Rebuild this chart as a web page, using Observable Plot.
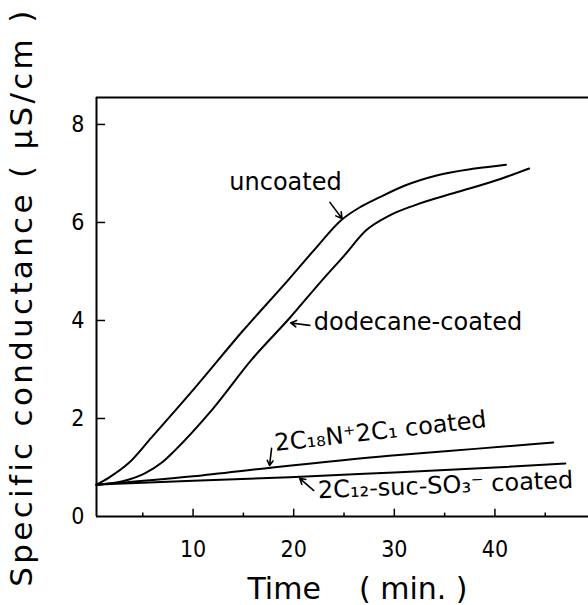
<!DOCTYPE html>
<html><head><meta charset="utf-8">
<script src="https://cdn.jsdelivr.net/npm/d3@7"></script>
<script src="https://cdn.jsdelivr.net/npm/@observablehq/plot@0.6"></script>
<style>
html,body{margin:0;padding:0;background:#fff;}
#chart{width:588px;height:605px;overflow:hidden;}
text{white-space:pre;}
</style></head><body><div id="chart"></div>
<script>
// Time (min) / specific conductance (µS/cm) readings
const uncoated = [[0.4,0.65],[1.6,0.79],[3.6,1.09],[5.9,1.62],[10.2,2.63],[14.95,3.79],[19.6,4.86],[22,5.43],[24.8,6.06],[26.5,6.3],[28.5,6.51],[31,6.75],[34.2,6.96],[38,7.1],[41.1,7.18]];
const dodecane = [[0.4,0.65],[3.0,0.72],[5.2,0.88],[6.9,1.10],[8.2,1.35],[11.9,2.18],[15.9,3.22],[19.6,4.05],[22.9,4.84],[25,5.32],[27.2,5.84],[29.5,6.14],[32,6.35],[36.1,6.61],[40,6.85],[43.4,7.10]];
const c18 = [[0.4,0.65],[10,0.82],[17.9,1.0],[29.5,1.24],[38,1.38],[45.8,1.51]];
const c12 = [[0.4,0.65],[10,0.73],[19.6,0.80],[30,0.9],[40,1.0],[47,1.08]];
const seriesNames = ["uncoated","dodecane-coated","2C18N+2C1 coated","2C12-suc-SO3- coated"];
const xTicksMajor = [10,20,30,40];
const xTicksMinor = [5,15,25,35,45];
const yTicks = [0,2,4,6,8];
const xTitle = "Time    ( min. )";
const yTitle = "Specific conductance ( \u03bcS/cm )";
const labelTexts = ["uncoated","dodecane-coated","2C\u2081\u2088N\u207a2C\u2081 coated","2C\u2081\u2082-suc-SO\u2083\u207b coated"];

// layout (not data)
const xDomain = [0.4, 49.3];
const yDomain = [0, 8.55];
const labelPos = [[13.6,6.82,0],[22.0,3.96,0],[18.1,1.49,-6.5],[22.4,0.53,-2.3]];
const arrowPos = [[23.6,6.41,24.8,6.08],[21.6,3.90,19.7,3.95],[17.8,1.39,17.6,1.04],[22.0,0.53,20.6,0.78]];

const rows = [uncoated,dodecane,c18,c12].flatMap((pts,i)=>pts.map(([t,c])=>({series:seriesNames[i],t,c})));
const labels = labelTexts.map((text,i)=>({text,x:labelPos[i][0],y:labelPos[i][1],r:labelPos[i][2]}));
const arrows = arrowPos.map(([x1,y1,x2,y2])=>({x1,y1,x2,y2}));

const chart = Plot.plot({
  width:588, height:605,
  marginLeft:96, marginRight:0, marginTop:97, marginBottom:89,
  x:{domain:xDomain}, y:{domain:yDomain},
  style:{fontFamily:"DejaVu Sans", color:"#000", background:"#fff"},
  marks:[
    Plot.ruleX([xDomain[0]],{stroke:"#000",strokeWidth:2}),
    Plot.ruleY([yDomain[0]],{stroke:"#000",strokeWidth:2}),
    Plot.ruleY([yDomain[1]],{stroke:"#000",strokeWidth:2}),
    Plot.ruleY(yTicks.filter(d=>d>0),{x1:xDomain[0],x2:xDomain[0]+0.9,stroke:"#000",strokeWidth:1.5}),
    Plot.ruleX(xTicksMajor,{y1:0,y2:0.15,stroke:"#000",strokeWidth:1.5}),
    Plot.ruleX(xTicksMinor,{y1:0,y2:0.07,stroke:"#000",strokeWidth:1.5}),
    Plot.axisY(yTicks,{tickSize:0,tickPadding:12,fontSize:23,fontFamily:"DejaVu Sans Condensed",label:null}),
    Plot.axisX(xTicksMajor,{tickSize:0,tickPadding:24,fontSize:23,fontFamily:"DejaVu Sans Condensed",label:null}),
    Plot.line(rows,{x:"t",y:"c",z:"series",stroke:"#000",strokeWidth:2,curve:"monotone-x"}),
    Plot.text(labels,{x:"x",y:"y",text:"text",rotate:"r",textAnchor:"start",fontSize:24,fill:"#000"}),
    Plot.arrow(arrows,{x1:"x1",y1:"y1",x2:"x2",y2:"y2",stroke:"#000",strokeWidth:1.6,headLength:9}),
    Plot.text([xTitle],{text:d=>d,frameAnchor:"bottom",dy:82,dx:15,fontSize:30,fill:"#000"}),
    Plot.text([yTitle],{text:d=>d,frameAnchor:"left",textAnchor:"middle",dx:-74,dy:-10,rotate:-90,fontSize:31,fill:"#000"})
  ]
});
d3.select(chart).selectAll("text").each(function(){
  if (this.textContent===yTitle) this.setAttribute("letter-spacing","3.3");
});
document.getElementById("chart").appendChild(chart);
</script></body></html>
